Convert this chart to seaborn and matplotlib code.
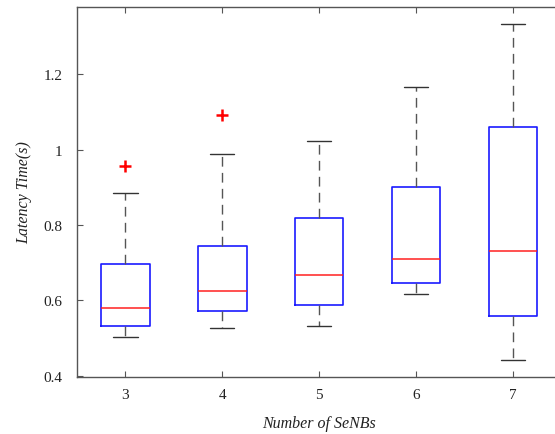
import numpy as np
import pandas as pd
import matplotlib
matplotlib.use("Agg")
import matplotlib.pyplot as plt
import seaborn as sns

# Five-number summaries (MATLAB-style boxplot)
senbs = [3, 4, 5, 6, 7]
whisker_low = [0.502, 0.527, 0.532, 0.617, 0.441]
q1 = [0.533, 0.572, 0.588, 0.646, 0.559]
median = [0.581, 0.624, 0.667, 0.710, 0.732]
q3 = [0.697, 0.745, 0.819, 0.901, 1.059]
whisker_high = [0.884, 0.988, 1.023, 1.166, 1.334]
outlier_x = [3, 4]
outlier_y = [0.957, 1.091]

yticks = [0.4, 0.6, 0.8, 1.0, 1.2]
ytick_labels = ["0.4", "0.6", "0.8", "1", "1.2"]

# Long table: 5 values per group give exactly these quartiles / extremes
rows = []
for i, n in enumerate(senbs):
    for v in (whisker_low[i], q1[i], median[i], q3[i], whisker_high[i]):
        rows.append({"n": n, "t": v})
df = pd.DataFrame(rows)
df_out = pd.DataFrame({"n": outlier_x, "t": outlier_y})

sns.set_style("ticks")
plt.rcParams["font.family"] = ["Liberation Serif", "DejaVu Serif"]

fig = plt.figure(figsize=(5.55, 4.35), dpi=100)
ax = fig.add_axes([77 / 555, 57 / 435, (561.5 - 77) / 555, 370 / 435])

sns.boxplot(data=df, x="n", y="t", native_scale=True, width=0.5, whis=np.inf,
            fill=False, ax=ax,
            boxprops=dict(color="#1a1aff", linewidth=1.2),
            medianprops=dict(color="#ff2020", linewidth=1.1),
            whiskerprops=dict(color="#555555", linewidth=1.0, linestyle=(0, (7, 4.5))),
            capprops=dict(color="#333333", linewidth=1.0),
            showfliers=False)

sns.stripplot(data=df_out, x="n", y="t", native_scale=True, jitter=False,
              marker="+", color="red", size=8, linewidth=1.8, ax=ax)

ax.set_xlim(2.5, 7.5)
ax.set_ylim(0.397, 1.378)
ax.set_xticks(senbs)
ax.set_xticklabels([str(s) for s in senbs])
ax.set_yticks(yticks)
ax.set_yticklabels(ytick_labels)

for sp in ax.spines.values():
    sp.set_visible(True)
    sp.set_color("#555555")
    sp.set_linewidth(1.0)
ax.tick_params(direction="in", length=4, width=0.8, color="#555555",
               top=True, right=True, labelsize=11, labelcolor="#222222")
ax.tick_params(axis="y", pad=10.5)
ax.tick_params(axis="x", pad=8)

ax.set_xlabel("Number of SeNBs", fontsize=11.5, fontstyle="italic", color="#222222", labelpad=10)
ax.set_ylabel("Latency Time(s)", fontsize=11.5, fontstyle="italic", color="#222222", labelpad=8)

fig.savefig("out.png", dpi=100)
